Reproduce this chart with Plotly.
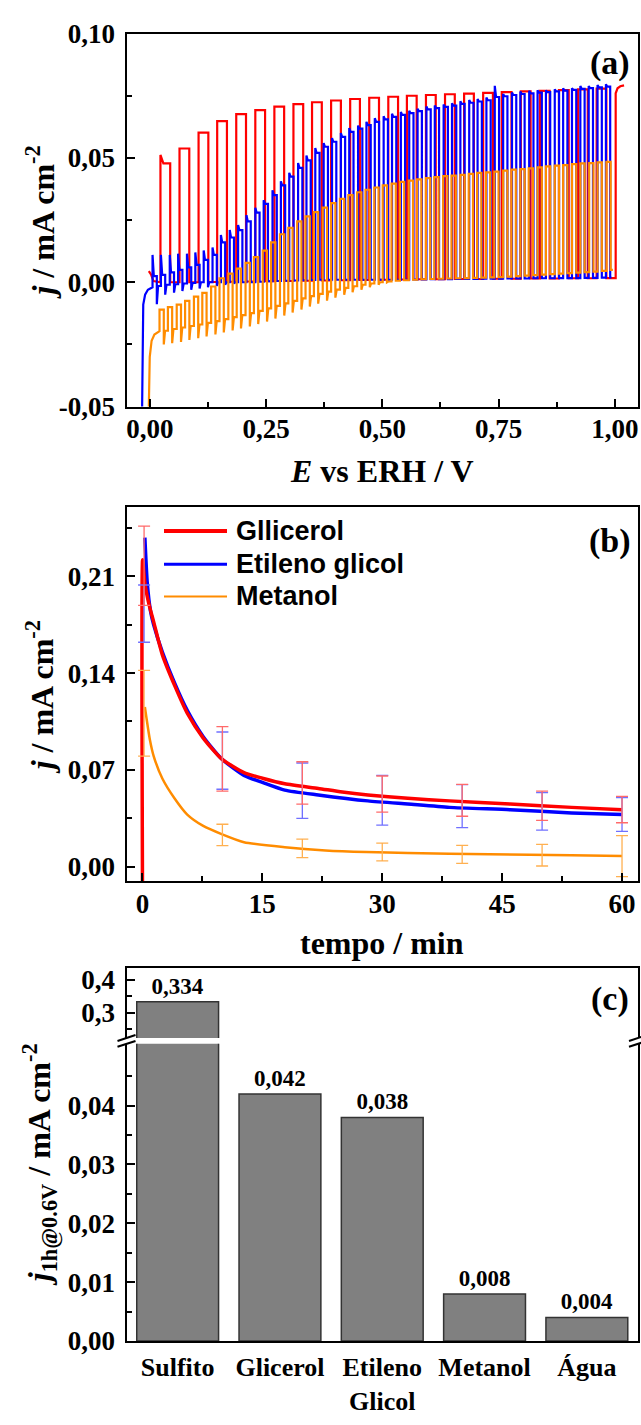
import plotly.graph_objects as go

W, H = 641, 1425

# ---------------- Panel (a): chopped-light LSV ----------------
red_start_E = [-0.002, 0.003, 0.008, 0.023]
red_start_j = [0.0045, 0.0030, 0.0005, 0.0000]
red_rise = [0.023, 0.064, 0.105, 0.145, 0.186, 0.227, 0.268, 0.309, 0.349, 0.390,
            0.431, 0.472, 0.513, 0.553, 0.594, 0.635, 0.676, 0.717, 0.757, 0.798,
            0.839, 0.880, 0.921, 0.961]
red_on_width = 0.021
red_peak = [0.0512, 0.0538, 0.0602, 0.0648, 0.0676, 0.0692, 0.0706, 0.0716, 0.0724, 0.0731,
            0.0737, 0.0742, 0.0746, 0.0750, 0.0753, 0.0756, 0.0759, 0.0762, 0.0765, 0.0768,
            0.0770, 0.0773, 0.0776, 0.0779]
red_on = [0.0478, 0.0538, 0.0602, 0.0648, 0.0676, 0.0692, 0.0706, 0.0716, 0.0724, 0.0731,
          0.0737, 0.0742, 0.0746, 0.0750, 0.0753, 0.0756, 0.0759, 0.0762, 0.0765, 0.0768,
          0.0770, 0.0773, 0.0776, 0.0779]
red_dark = [0.0000, 0.0000, 0.0001, 0.0002, 0.0003, 0.0004, 0.0005, 0.0006, 0.0007, 0.0008,
            0.0009, 0.0010, 0.0011, 0.0012, 0.0012, 0.0013, 0.0013, 0.0014, 0.0014, 0.0015,
            0.0015, 0.0016, 0.0016, 0.0017]
red_tail_E = [1.002, 1.002, 1.006, 1.012, 1.020]
red_tail_j = [0.0017, 0.0760, 0.0780, 0.0788, 0.0792]

blue_start_E = [-0.017, -0.016, -0.014, -0.010, -0.004, 0.006]
blue_start_j = [-0.060, -0.030, -0.009, -0.005, -0.003, -0.002]
blue_rise = [0.006, 0.024, 0.043, 0.061, 0.080, 0.098, 0.116, 0.135, 0.153, 0.172,
             0.190, 0.208, 0.227, 0.245, 0.264, 0.282, 0.300, 0.319, 0.337, 0.356,
             0.374, 0.392, 0.411, 0.429, 0.448, 0.466, 0.484, 0.503, 0.521, 0.540,
             0.558, 0.576, 0.595, 0.613, 0.632, 0.650, 0.668, 0.687, 0.705, 0.724,
             0.742, 0.760, 0.779, 0.797, 0.816, 0.834, 0.852, 0.871, 0.889, 0.908,
             0.926, 0.944, 0.963, 0.981]
blue_on_width = 0.0092
blue_peak = [0.0110, 0.0110, 0.0110, 0.0115, 0.0115, 0.0120, 0.0128, 0.0140, 0.0190, 0.0210,
             0.0230, 0.0270, 0.0300, 0.0330, 0.0370, 0.0406, 0.0440, 0.0480, 0.0510, 0.0540,
             0.0560, 0.0580, 0.0600, 0.0620, 0.0630, 0.0645, 0.0660, 0.0668, 0.0678, 0.0685,
             0.0690, 0.0698, 0.0707, 0.0711, 0.0715, 0.0720, 0.0728, 0.0733, 0.0737, 0.0743,
             0.0790, 0.0757, 0.0763, 0.0767, 0.0770, 0.0772, 0.0772, 0.0776, 0.0780, 0.0780,
             0.0789, 0.0789, 0.0793, 0.0796]
blue_on = [0.0025, 0.0030, 0.0040, 0.0050, 0.0060, 0.0070, 0.0090, 0.0110, 0.0160, 0.0180,
           0.0210, 0.0245, 0.0280, 0.0315, 0.0350, 0.0390, 0.0425, 0.0460, 0.0490, 0.0520,
           0.0545, 0.0565, 0.0585, 0.0605, 0.0618, 0.0632, 0.0645, 0.0655, 0.0665, 0.0673,
           0.0680, 0.0688, 0.0695, 0.0700, 0.0705, 0.0710, 0.0717, 0.0722, 0.0727, 0.0732,
           0.0745, 0.0748, 0.0753, 0.0757, 0.0760, 0.0763, 0.0765, 0.0768, 0.0771, 0.0774,
           0.0778, 0.0781, 0.0784, 0.0787]
blue_dip = [-0.0088, -0.0050, -0.0042, -0.0035, -0.0030, -0.0025, -0.0020, -0.0015, -0.0010, -0.0005,
            0.0000, 0.0000, 0.0002, 0.0004, 0.0005, 0.0006, 0.0007, 0.0008, 0.0009, 0.0010,
            0.0010, 0.0010, 0.0010, 0.0010, 0.0010, 0.0010, 0.0010, 0.0010, 0.0010, 0.0010,
            0.0011, 0.0011, 0.0012, 0.0012, 0.0012, 0.0013, 0.0013, 0.0013, 0.0014, 0.0014,
            0.0014, 0.0015, 0.0015, 0.0015, 0.0016, 0.0016, 0.0016, 0.0017, 0.0017, 0.0017,
            0.0018, 0.0018, 0.0019, 0.0020]
blue_dark = [-0.0015, -0.0010, -0.0008, -0.0005, -0.0003, 0.0000, 0.0000, 0.0000, 0.0000, 0.0000,
             0.0000, 0.0000, 0.0002, 0.0004, 0.0005, 0.0006, 0.0007, 0.0008, 0.0009, 0.0010,
             0.0010, 0.0010, 0.0010, 0.0010, 0.0010, 0.0010, 0.0010, 0.0010, 0.0010, 0.0010,
             0.0011, 0.0011, 0.0012, 0.0012, 0.0012, 0.0013, 0.0013, 0.0013, 0.0014, 0.0014,
             0.0014, 0.0015, 0.0015, 0.0015, 0.0016, 0.0016, 0.0016, 0.0017, 0.0017, 0.0017,
             0.0018, 0.0018, 0.0019, 0.0020]
blue_tail_E = [0.993]
blue_tail_j = [0.0020]

orange_start_E = [-0.003, -0.002, 0.000, 0.004, 0.010, 0.021]
orange_start_j = [-0.060, -0.045, -0.030, -0.0235, -0.0210, -0.0197]
orange_rise = [0.021, 0.039, 0.058, 0.076, 0.095, 0.113, 0.132, 0.150, 0.169, 0.187,
               0.206, 0.224, 0.243, 0.261, 0.280, 0.298, 0.317, 0.335, 0.353, 0.372,
               0.390, 0.409, 0.427, 0.446, 0.464, 0.483, 0.501, 0.520, 0.538, 0.557,
               0.575, 0.594, 0.612, 0.631, 0.649, 0.668, 0.686, 0.704, 0.723, 0.741,
               0.760, 0.778, 0.797, 0.815, 0.834, 0.852, 0.871, 0.889, 0.908, 0.926,
               0.945, 0.963, 0.982]
orange_on_width = 0.0092
orange_on = [-0.0110, -0.0100, -0.0090, -0.0075, -0.0058, -0.0043, -0.0017, 0.0016, 0.0035, 0.0055,
             0.0078, 0.0101, 0.0127, 0.0160, 0.0193, 0.0219, 0.0245, 0.0265, 0.0282, 0.0300,
             0.0318, 0.0335, 0.0350, 0.0362, 0.0372, 0.0381, 0.0390, 0.0397, 0.0404, 0.0409,
             0.0414, 0.0419, 0.0423, 0.0427, 0.0429, 0.0432, 0.0436, 0.0440, 0.0442, 0.0445,
             0.0449, 0.0453, 0.0455, 0.0458, 0.0462, 0.0466, 0.0469, 0.0471, 0.0475, 0.0478,
             0.0479, 0.0482, 0.0484]
orange_dip = [-0.0250, -0.0245, -0.0240, -0.0232, -0.0225, -0.0218, -0.0210, -0.0202, -0.0194, -0.0186,
              -0.0178, -0.0168, -0.0158, -0.0146, -0.0134, -0.0122, -0.0110, -0.0098, -0.0086, -0.0074,
              -0.0062, -0.0050, -0.0040, -0.0030, -0.0020, -0.0010, 0.0000, 0.0006, 0.0008, 0.0010,
              0.0012, 0.0013, 0.0014, 0.0015, 0.0016, 0.0017, 0.0018, 0.0019, 0.0020, 0.0021,
              0.0023, 0.0025, 0.0027, 0.0029, 0.0031, 0.0033, 0.0035, 0.0037, 0.0039, 0.0041,
              0.0043, 0.0046, 0.0050]
orange_dark = [-0.0195, -0.0188, -0.0182, -0.0176, -0.0170, -0.0163, -0.0156, -0.0148, -0.0140, -0.0132,
               -0.0124, -0.0115, -0.0105, -0.0095, -0.0085, -0.0075, -0.0065, -0.0056, -0.0047, -0.0038,
               -0.0030, -0.0023, -0.0016, -0.0010, -0.0005, 0.0000, 0.0003, 0.0006, 0.0008, 0.0010,
               0.0012, 0.0013, 0.0014, 0.0015, 0.0016, 0.0017, 0.0018, 0.0019, 0.0020, 0.0021,
               0.0023, 0.0025, 0.0027, 0.0029, 0.0031, 0.0033, 0.0035, 0.0037, 0.0039, 0.0041,
               0.0043, 0.0046, 0.0050]
orange_tail_E = [0.996]
orange_tail_j = [0.0050]

a_xticks = [0.0, 0.25, 0.50, 0.75, 1.00]
a_xticktext = ["0,00", "0,25", "0,50", "0,75", "1,00"]
a_xminor = [0.125, 0.375, 0.625, 0.875]
a_yticks = [-0.05, 0.0, 0.05, 0.10]
a_yticktext = ["-0,05", "0,00", "0,05", "0,10"]
a_yminor = [-0.025, 0.025, 0.075]

# ---------------- Panel (b): chronoamperometry ----------------
gli_t = [0.0, 0.02, 0.3, 0.8, 1.4, 2.5, 4.1, 5.6, 7.6, 9.9, 12.7, 15.0, 17.8, 22.0, 25.0,
         28.2, 33.2, 38.4, 46.0, 53.7, 60.0]
gli_j = [-0.012, 0.222, 0.205, 0.190, 0.177, 0.153, 0.130, 0.111, 0.093, 0.078, 0.068, 0.064,
         0.060, 0.0566, 0.054, 0.0519, 0.0495, 0.0476, 0.0453, 0.0429, 0.0412]
eg_t = [0.3, 0.6, 1.0, 1.4, 2.5, 4.0, 5.6, 7.6, 9.9, 12.7, 15.0, 17.8, 22.0, 28.2, 33.2,
        38.4, 46.0, 53.7, 60.0]
eg_j = [0.238, 0.205, 0.185, 0.175, 0.155, 0.133, 0.113, 0.094, 0.078, 0.066, 0.061, 0.0554,
        0.0519, 0.0476, 0.0453, 0.0429, 0.0412, 0.0389, 0.0377]
met_t = [0.3, 0.92, 1.4, 2.5, 4.0, 5.6, 7.6, 9.9, 12.7, 17.8, 22.9, 28.0, 33.2, 43.4, 53.7, 60.0]
met_j = [0.1155, 0.092, 0.080, 0.0636, 0.0495, 0.0377, 0.0295, 0.0236, 0.0177, 0.0141,
         0.0118, 0.0106, 0.0099, 0.0090, 0.0082, 0.0078]

err_t = [0.2, 10, 20, 30, 40, 50, 60]
gli_err_c = [0.2176, 0.078, 0.0606, 0.0525, 0.048, 0.0441, 0.0413]
gli_err = [0.0287, 0.0233, 0.0153, 0.0131, 0.0115, 0.0106, 0.0095]
eg_err_c = [0.183, 0.0767, 0.055, 0.048, 0.0438, 0.040, 0.0377]
eg_err = [0.0207, 0.0207, 0.020, 0.018, 0.0156, 0.0136, 0.0122]
met_err_c = [0.111, 0.023, 0.0133, 0.0106, 0.0089, 0.0083, 0.0077]
met_err = [0.031, 0.0077, 0.0067, 0.0064, 0.0065, 0.0078, 0.0148]

legend_names = ["Gllicerol", "Etileno glicol", "Metanol"]

b_xticks = [0, 15, 30, 45, 60]
b_xticktext = ["0", "15", "30", "45", "60"]
b_xminor = [7.5, 22.5, 37.5, 52.5]
b_yticks = [0.0, 0.07, 0.14, 0.21]
b_yticktext = ["0,00", "0,07", "0,14", "0,21"]
b_yminor = [0.035, 0.105, 0.175, 0.245]

# ---------------- Panel (c): bars ----------------
c_categories = ["Sulfito", "Glicerol", "Etileno<br>Glicol", "Metanol", "Água"]
c_values = [0.334, 0.042, 0.038, 0.008, 0.004]
c_low_ticks = [0.0, 0.01, 0.02, 0.03, 0.04]
c_low_ticktext = ["0,00", "0,01", "0,02", "0,03", "0,04"]
c_low_minor = [0.005, 0.015, 0.025, 0.035, 0.045]
c_up_ticks = [0.3, 0.4]
c_up_ticktext = ["0,3", "0,4"]
c_up_minor = [0.25, 0.35]

RED, BLUE, ORANGE = "#FF0000", "#0000FF", "#FF8C00"
SERIF = "Liberation Serif"
SANS = "Liberation Sans"


def chopped(start_E, start_j, rise, on_width, peak, on, dip, dark, tail_E, tail_j):
    E = list(start_E)
    J = list(start_j)
    d = 0.3 * on_width
    for k in range(len(rise)):
        r = rise[k]
        f = r + on_width
        E += [r, r, r + d, f, f, f + d]
        J += [J[-1], peak[k], on[k], on[k], dip[k], dark[k]]
    E += list(tail_E)
    J += list(tail_j)
    return E, J


def px(x):
    return x / W


def py(y):
    return 1 - y / H


fig = go.Figure()

rE, rJ = chopped(red_start_E, red_start_j, red_rise, red_on_width, red_peak, red_on,
                 red_dark, red_dark, red_tail_E, red_tail_j)
bE, bJ = chopped(blue_start_E, blue_start_j, blue_rise, blue_on_width, blue_peak, blue_on,
                 blue_dip, blue_dark, blue_tail_E, blue_tail_j)
oE, oJ = chopped(orange_start_E, orange_start_j, orange_rise, orange_on_width, orange_on,
                 orange_on, orange_dip, orange_dark, orange_tail_E, orange_tail_j)

for E, J, c, n in [(rE, rJ, RED, legend_names[0]), (bE, bJ, BLUE, legend_names[1]),
                   (oE, oJ, ORANGE, legend_names[2])]:
    fig.add_trace(go.Scatter(x=E, y=J, mode="lines", line=dict(color=c, width=2.2),
                             name=n, showlegend=False, xaxis="x", yaxis="y"))

# Panel (b) curves
fig.add_trace(go.Scatter(x=eg_t, y=eg_j, mode="lines",
                         line=dict(color=BLUE, width=3.5, shape="spline", smoothing=0.6),
                         name=legend_names[1], showlegend=False, xaxis="x2", yaxis="y2"))
fig.add_trace(go.Scatter(x=gli_t, y=gli_j, mode="lines",
                         line=dict(color=RED, width=3.5, shape="spline", smoothing=0.6),
                         name=legend_names[0], showlegend=False, xaxis="x2", yaxis="y2"))
fig.add_trace(go.Scatter(x=met_t, y=met_j, mode="lines",
                         line=dict(color=ORANGE, width=2.5, shape="spline", smoothing=0.6),
                         name=legend_names[2], showlegend=False, xaxis="x2", yaxis="y2"))
for cc, ee, col in [(eg_err_c, eg_err, "#7070FF"),
                    (gli_err_c, gli_err, "#FF6A6A"),
                    (met_err_c, met_err, "#FFB050")]:
    fig.add_trace(go.Scatter(x=err_t, y=cc, mode="markers",
                             marker=dict(size=2, color="rgba(0,0,0,0)"),
                             error_y=dict(type="data", array=ee, color=col, thickness=1.3, width=6),
                             showlegend=False, xaxis="x2", yaxis="y2"))

# Panel (c) bars: lower segment (values below the break carry labels), upper segment (Sulfito)
low_idx = [i for i, v in enumerate(c_values) if v < 0.05]
up_idx = [i for i, v in enumerate(c_values) if v >= 0.05]
bar_style = dict(color="#808080", line=dict(color="#333333", width=1.5))
bar_font = dict(family=SERIF, size=23, color="black", weight="bold")


def lab(v):
    return f"{v:.3f}".replace(".", ",")


fig.add_trace(go.Bar(x=[c_categories[i] for i in up_idx], y=[c_values[i] for i in up_idx],
                     marker=bar_style, width=0.8, textposition="none",
                     showlegend=False, xaxis="x3", yaxis="y3"))
fig.add_trace(go.Bar(x=[c_categories[i] for i in low_idx], y=[c_values[i] for i in low_idx],
                     marker=bar_style, width=0.8, text=[lab(c_values[i]) for i in low_idx],
                     textposition="outside", textfont=bar_font,
                     showlegend=False, xaxis="x3", yaxis="y3"))
fig.add_trace(go.Bar(x=[c_categories[i] for i in up_idx], y=[c_values[i] for i in up_idx],
                     marker=bar_style, width=0.8, text=[lab(c_values[i]) for i in up_idx],
                     textposition="outside", textfont=bar_font,
                     showlegend=False, xaxis="x4", yaxis="y4"))

XDOM = [px(126.5), px(638)]
tickfont = dict(family=SERIF, size=27, color="black", weight="bold")
common = dict(showline=True, linecolor="black", linewidth=2, showgrid=False, zeroline=False,
              ticks="inside", ticklen=8, tickwidth=2, tickcolor="black", tickfont=tickfont)


def minor(vals):
    return dict(tickmode="array", tickvals=vals, ticks="inside", ticklen=5, tickwidth=2,
                tickcolor="black")


fig.update_layout(
    width=W, height=H, margin=dict(l=0, r=0, t=0, b=0),
    paper_bgcolor="white", plot_bgcolor="white", showlegend=False,
    barmode="overlay",
    xaxis=dict(domain=XDOM, anchor="y", range=[-0.05, 1.05], tickmode="array",
               tickvals=a_xticks, ticktext=a_xticktext, minor=minor(a_xminor), mirror=True,
               ticklabelstandoff=-3, **common),
    yaxis=dict(domain=[py(400), py(19)], anchor="x", range=[-0.05, 0.10], tickmode="array",
               tickvals=a_yticks, ticktext=a_yticktext, minor=minor(a_yminor), mirror=True,
               ticklabelstandoff=4, **common),
    xaxis2=dict(domain=XDOM, anchor="y2", range=[-2, 62], tickmode="array",
                tickvals=b_xticks, ticktext=b_xticktext, minor=minor(b_xminor), mirror=True,
                ticklabelstandoff=-3, **common),
    yaxis2=dict(domain=[py(885), py(502.7)], anchor="x2", range=[-0.0106, 0.26], tickmode="array",
                tickvals=b_yticks, ticktext=b_yticktext, minor=minor(b_yminor), mirror=True,
                ticklabelstandoff=4, **common),
    xaxis3=dict(domain=XDOM, anchor="y3", range=[-0.5, 4.5], type="category",
                categoryorder="array", categoryarray=c_categories,
                showline=True, linecolor="black", linewidth=2, showgrid=False, zeroline=False,
                ticks="", tickfont=dict(family=SERIF, size=26, color="black", weight="bold"),
                ticklabelstandoff=2),
    yaxis3=dict(domain=[py(1354.5), py(1051)], anchor="x3", range=[0, 0.0505], tickmode="array",
                tickvals=c_low_ticks, ticktext=c_low_ticktext, minor=minor(c_low_minor),
                mirror=True, ticklabelstandoff=4, **common),
    xaxis4=dict(domain=XDOM, anchor="y4", range=[-0.5, 4.5], type="category", side="top",
                categoryorder="array", categoryarray=c_categories,
                matches="x3", showline=True, linecolor="black", linewidth=2, showgrid=False,
                zeroline=False, ticks="", showticklabels=False),
    yaxis4=dict(domain=[py(1045), py(974)], anchor="x4", range=[0.2235, 0.435], tickmode="array",
                tickvals=c_up_ticks, ticktext=c_up_ticktext, minor=minor(c_up_minor),
                mirror=True, ticklabelstandoff=4, **common),
)

ann = []
title_font = dict(family=SERIF, size=32, color="black", weight="bold")
ann.append(dict(text="<i>j</i> / mA cm<sup>-2</sup>", x=px(40), y=py(212), textangle=-90,
                font=title_font))
ann.append(dict(text="<i>E</i> vs ERH / V", x=px(382), y=py(466), font=title_font))
ann.append(dict(text="<i>j</i> / mA cm<sup>-2</sup>", x=px(40), y=py(697), textangle=-90,
                font=title_font))
ann.append(dict(text="tempo / min", x=px(382), y=py(948), font=title_font))
ann.append(dict(text="<i>j</i><sub>1h@0.6V</sub> / mA cm<sup>-2</sup>", x=px(40),
                y=py(1175), textangle=-90, font=title_font))
for labtxt, yy in [("(a)", 49), ("(b)", 537), ("(c)", 1005)]:
    ann.append(dict(text=labtxt, x=px(610), y=py(yy),
                    font=dict(family=SERIF, size=34, color="black", weight="bold")))
leg_y = [527, 561, 594]
for name, yy in zip(legend_names, leg_y):
    ann.append(dict(text=name, x=px(234), y=py(yy), xanchor="left",
                    font=dict(family=SANS, size=27, color="black", weight="bold")))
for a in ann:
    a.setdefault("xanchor", "center")
    a.setdefault("yanchor", "middle")
    a.update(xref="paper", yref="paper", showarrow=False)
fig.update_layout(annotations=ann)

shapes = []
for yy, col, wd in zip(leg_y, [RED, BLUE, ORANGE], [4, 3, 2]):
    shapes.append(dict(type="line", xref="paper", yref="paper", x0=px(164), x1=px(227),
                       y0=py(yy), y1=py(yy), line=dict(color=col, width=wd)))
for xc in [126.5, 638]:
    for yoff in [1045, 1051]:
        shapes.append(dict(type="line", xref="paper", yref="paper", x0=px(xc - 9), x1=px(xc + 9),
                           y0=py(yoff + 3), y1=py(yoff - 3), line=dict(color="black", width=2)))
fig.update_layout(shapes=shapes)

fig.write_html("out.html")
